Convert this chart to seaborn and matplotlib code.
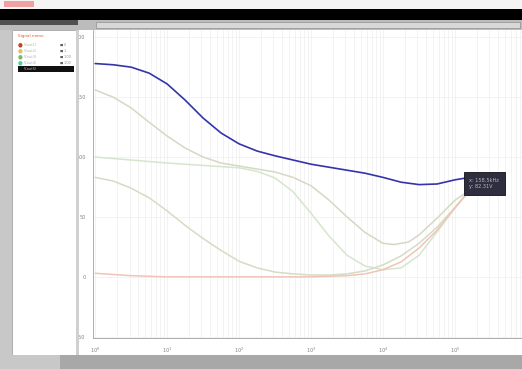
#!/usr/bin/env python3
# -*- coding:utf-8 -*-
import numpy as np
import pandas as pd
import matplotlib
matplotlib.use("Agg")
import matplotlib.pyplot as plt
from matplotlib.patches import Rectangle
import seaborn as sns

# frequency points as log10 decades
blue_dec = [0, 0.25, 0.5, 0.75, 1.0, 1.25, 1.5, 1.75, 2.0, 2.25, 2.5, 2.75, 3.0,
            3.25, 3.5, 3.75, 4.0, 4.25, 4.5, 4.75, 5.0, 5.2]
blue_vals = [178, 177, 175, 170, 161, 147.5, 132.5, 120, 111, 105, 101, 97.5, 94,
             91.5, 89, 86.5, 83, 79, 77, 77.5, 81, 83]

pale_dec = [0, 0.25, 0.5, 0.75, 1.0, 1.25, 1.5, 1.75, 2.0, 2.25, 2.5, 2.75, 3.0,
            3.25, 3.5, 3.75, 4.0, 4.15, 4.35, 4.5, 4.75, 5.0, 5.2]
pale_vals = [156, 150, 141, 129, 117.5, 107.5, 100, 95, 92.5, 90, 87.5, 83, 76,
             64, 50, 37, 28, 27, 29, 35, 49, 64, 72]

green_dec = [0, 0.5, 1.0, 1.5, 2.0, 2.25, 2.5, 2.75, 3.0, 3.25, 3.5, 3.75, 4.0,
             4.25, 4.5, 4.75, 5.0, 5.2]
green_vals = [100, 97.5, 95, 93, 91, 88, 82.5, 71, 53, 34, 18, 9, 6,
              7.5, 18, 37.5, 58, 72]

teal_dec = [0, 0.25, 0.5, 0.75, 1.0, 1.25, 1.5, 1.75, 2.0, 2.25, 2.5, 2.75, 3.0,
            3.25, 3.5, 3.75, 4.0, 4.25, 4.5, 4.75, 5.0, 5.2]
teal_vals = [83, 80, 74, 66, 55, 43, 32, 22, 13, 7.5, 4, 2.5, 1.5,
             1.5, 2.5, 5, 10, 17.5, 28, 41.5, 58, 72]

red_dec = [0, 0.5, 1.0, 2.0, 3.0, 3.5, 3.75, 4.0, 4.25, 4.5, 4.75, 5.0, 5.2]
red_vals = [3, 1, 0, 0, 0, 1, 2.5, 6, 12.5, 24, 39, 57.5, 72]

series_names = ["V(out1)", "V(out2)", "V(out3)", "V(out4)", "V(out5)"]
series_colors = ["#d6d8c4", "#d4e6cc", "#d4dcc4", "#f0c4b8", "#3434aa"]
legend_dots = ["#c84020", "#e0c060", "#70c060", "#50d0a0"]
legend_vals = ["0", "1", "1.00", "1.00"]

frames = []
for name, dx, dy in zip(series_names,
                        [pale_dec, green_dec, teal_dec, red_dec, blue_dec],
                        [pale_vals, green_vals, teal_vals, red_vals, blue_vals]):
    frames.append(pd.DataFrame({"freq": 10 ** np.asarray(dx, float),
                                "volt": dy, "sig": name}))
df = pd.concat(frames, ignore_index=True)

sns.set_style("white")
fig = plt.figure(figsize=(5.22, 3.69), dpi=100)
W, H = 522.0, 369.0


def px_rect(x, y, w, h, **kw):
    fig.patches.append(Rectangle((x / W, 1 - (y + h) / H), w / W, h / H,
                                 transform=fig.transFigure, **kw))


# window chrome
px_rect(0, 0, W, 9, color="#f4f4f4", lw=0)
px_rect(4, 1, 30, 6, color="#f0a0a0", lw=0)
px_rect(0, 9, W, 11, color="#000000", lw=0)
px_rect(0, 20, W, 10, color="#bcbcbc", lw=0)
px_rect(0, 20, 78, 5, color="#505050", lw=0)
px_rect(96, 22, 424, 6, color="#d8d8d8", ec="#909090", lw=0.5)
px_rect(0, 30, 12, 325, color="#c8c8c8", lw=0)
px_rect(12, 30, 64, 325, color="#ffffff", ec="#a0a0a0", lw=0.6)
px_rect(76, 30, 3, 325, color="#d0d0d0", lw=0)
px_rect(0, 355, W, 14, color="#a8a8a8", lw=0)
px_rect(0, 355, 60, 14, color="#c8c8c8", lw=0)

# legend panel
fig.text(18 / W, 1 - 36 / H, "Signal name", fontsize=3, color="#e06030", va="center")
for i, (c, v) in enumerate(zip(legend_dots, legend_vals)):
    yy = 1 - (45 + 6 * i) / H
    fig.text(20 / W, yy, "\u25cf", fontsize=4, color=c, va="center", ha="center")
    fig.text(24 / W, yy, series_names[i], fontsize=2.5, color="#b0b0b0", va="center")
    fig.text(60 / W, yy, "\u25a0", fontsize=2.5, color="#606060", va="center")
    fig.text(64 / W, yy, v, fontsize=2.5, color="#909090", va="center")
px_rect(18, 66, 56, 6, color="#101010", lw=0)
fig.text(24 / W, 1 - 69 / H, series_names[4], fontsize=2.5, color="#c0c0c0", va="center")

ax = fig.add_axes([93 / W, 1 - 338 / H, (W - 93) / W, (338 - 30) / H])
sns.lineplot(data=df, x="freq", y="volt", hue="sig", hue_order=series_names,
             palette=dict(zip(series_names, series_colors)), sort=False,
             linewidth=1.1, legend=False, ax=ax, estimator=None)
ax.lines[-1].set_linewidth(1.2)

ax.set_xscale("log")
ax.set_xlim(10 ** -0.03, 10 ** 5.93)
ax.set_ylim(-51, 206)
ax.set_yticks([-50, 0, 50, 100, 150, 200])
ax.set_xticks([10 ** k for k in range(0, 6)])
ax.grid(True, which="both", color="#eeeeee", lw=0.5)
ax.tick_params(labelsize=3.5, colors="#808080", length=2, width=0.5)
ax.set_xlabel("Freq (Hz)", fontsize=3.5, color="#808080", labelpad=1)
ax.set_ylabel("Voltage", fontsize=3.5, color="#808080", labelpad=4)
for s in ["top", "right"]:
    ax.spines[s].set_visible(False)
for s in ["left", "bottom"]:
    ax.spines[s].set_color("#a0a0a0")
    ax.spines[s].set_linewidth(0.6)

# cursor readout box
ax.text(10 ** 5.2, 78, "x: 158.5kHz\ny: 82.31V", fontsize=3.6, color="#b8b8c8",
        va="center", ha="left", linespacing=1.4,
        bbox=dict(boxstyle="square,pad=1.1", fc="#2e2e3e", ec="#101018", lw=0.6))

fig.savefig("out.png", dpi=100)
